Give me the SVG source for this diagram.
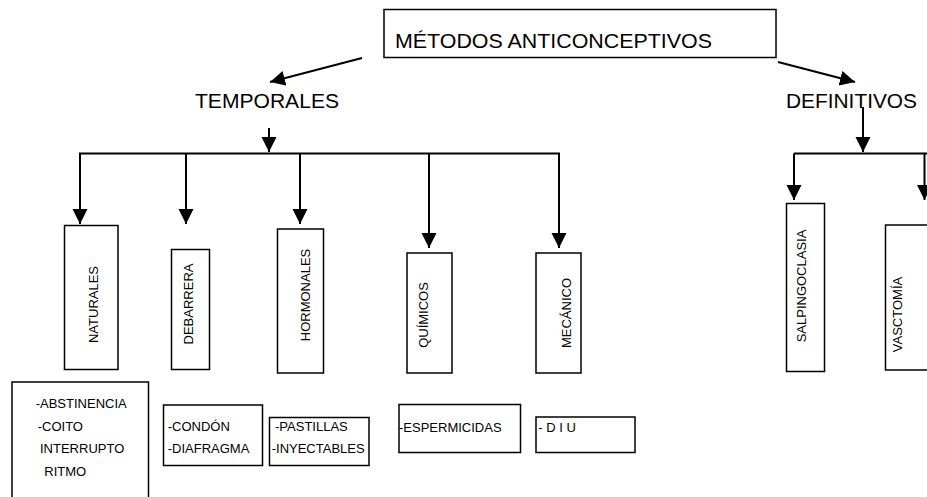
<svg xmlns="http://www.w3.org/2000/svg" width="927" height="497" viewBox="0 0 927 497">
<style>
text{font-family:"Liberation Sans",Arial,sans-serif;fill:#000}
.big{font-size:21px}
.v{font-size:13px;text-anchor:middle}
.s{font-size:13px}
.box{fill:#fff;stroke:#000;stroke-width:1.5}
.c{fill:none;stroke:#000;stroke-width:2}
</style>
<defs>
<marker id="ah" markerUnits="userSpaceOnUse" markerWidth="16" markerHeight="16" refX="15" refY="7.5" orient="auto">
<path d="M0,0 L15,7.5 L0,15 z" fill="#000"/>
</marker>
</defs>
<rect width="927" height="497" fill="#fff"/>
<g id="connectors">
<line class="c" x1="362" y1="58" x2="270" y2="82" marker-end="url(#ah)"/>
<line class="c" x1="778" y1="62" x2="855" y2="82" marker-end="url(#ah)"/>
<line class="c" x1="269" y1="128" x2="269" y2="152" marker-end="url(#ah)"/>
<polyline class="c" points="80,224 80,153.5 559,153.5 559,248"/>
<line class="c" x1="80" y1="200" x2="80" y2="224" marker-end="url(#ah)"/>
<line class="c" x1="186" y1="153.5" x2="186" y2="224" marker-end="url(#ah)"/>
<line class="c" x1="300" y1="153.5" x2="300" y2="224" marker-end="url(#ah)"/>
<line class="c" x1="429" y1="153.5" x2="429" y2="248" marker-end="url(#ah)"/>
<line class="c" x1="559" y1="200" x2="559" y2="248" marker-end="url(#ah)"/>
<line class="c" x1="863" y1="107" x2="863" y2="152" marker-end="url(#ah)"/>
<polyline class="c" points="794,153.5 930,153.5"/>
<line class="c" x1="794" y1="153.5" x2="794" y2="200" marker-end="url(#ah)"/>
<line class="c" x1="924.5" y1="153.5" x2="924.5" y2="200" marker-end="url(#ah)"/>
</g>
<g id="metodos">
<rect class="box" x="384" y="9.5" width="392" height="48"/>
<text class="big" x="395" y="48" textLength="317" lengthAdjust="spacingAndGlyphs">MÉTODOS ANTICONCEPTIVOS</text>
</g>
<g id="temporales">
<text class="big" x="195" y="108" textLength="144" lengthAdjust="spacingAndGlyphs">TEMPORALES</text>
</g>
<g id="definitivos">
<text class="big" x="786" y="108" textLength="131" lengthAdjust="spacingAndGlyphs">DEFINITIVOS</text>
</g>
<g id="naturales">
<rect class="box" x="64.5" y="225.5" width="53.5" height="144"/>
<text class="v" transform="translate(98,304.5) rotate(-90)">NATURALES</text>
</g>
<g id="debarrera">
<rect class="box" x="171.5" y="249.5" width="38" height="120"/>
<text class="v" transform="translate(193,304) rotate(-90)">DEBARRERA</text>
</g>
<g id="hormonales">
<rect class="box" x="277.5" y="229" width="46" height="144"/>
<text class="v" transform="translate(310,295) rotate(-90)">HORMONALES</text>
</g>
<g id="quimicos">
<rect class="box" x="407" y="253" width="45" height="120"/>
<text class="v" transform="translate(428,315) rotate(-90)">QUÍMICOS</text>
</g>
<g id="mecanico">
<rect class="box" x="536" y="253" width="45" height="120"/>
<text class="v" transform="translate(570.5,313) rotate(-90)">MECÁNICO</text>
</g>
<g id="salpingoclasia">
<rect class="box" x="786.5" y="203.5" width="38" height="168"/>
<text class="v" transform="translate(806,286) rotate(-90)">SALPINGOCLASIA</text>
</g>
<g id="vasctomia">
<rect class="box" x="885.5" y="225" width="50" height="145"/>
<text class="v" transform="translate(901.5,314.5) rotate(-90)">VASCTOMÍA</text>
</g>
<g id="naturales-list">
<rect class="box" x="12" y="382" width="136.5" height="130"/>
<text class="s" x="35.7" y="407.7">-ABSTINENCIA</text>
<text class="s" x="37.7" y="430.7">-COITO</text>
<text class="s" x="40" y="453.3">INTERRUPTO</text>
<text class="s" x="44.3" y="476">RITMO</text>
</g>
<g id="barrera-list">
<rect class="box" x="163.5" y="405" width="99" height="60.5"/>
<text class="s" x="167.7" y="430.7">-CONDÓN</text>
<text class="s" x="167.7" y="453.3">-DIAFRAGMA</text>
</g>
<g id="hormonales-list">
<rect class="box" x="269.5" y="417.5" width="99.5" height="48"/>
<text class="s" x="275" y="430.7">-PASTILLAS</text>
<text class="s" x="271.7" y="453.3">-INYECTABLES</text>
</g>
<g id="quimicos-list">
<rect class="box" x="399" y="404.5" width="121.5" height="48"/>
<text class="s" x="399" y="431.7">-ESPERMICIDAS</text>
</g>
<g id="mecanico-list">
<rect class="box" x="536" y="417" width="99" height="35.5"/>
<text class="s" x="538.3" y="431.7">- D I U</text>
</g>
</svg>
